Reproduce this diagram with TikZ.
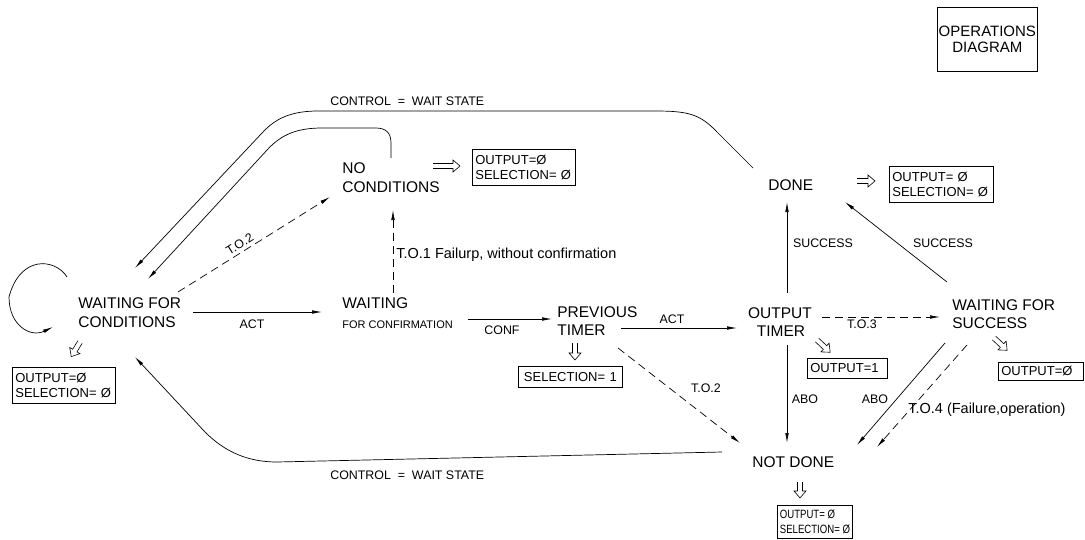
\documentclass[tikz,border=0pt]{standalone}
\usepackage{fontspec}
\setmainfont{Liberation Sans}
\newfontfamily\narrowsans{Liberation Sans}[FakeStretch=0.8]
\usetikzlibrary{arrows.meta,calc}
\begin{document}
\begin{tikzpicture}[x=1pt,y=-1pt,
  line width=0.7pt,
  >={Latex[length=10pt,width=3.6pt]},
  big/.style={font=\fontsize{15.5}{18}\selectfont, inner sep=0pt},
  small/.style={font=\fontsize{11}{13}\selectfont, inner sep=0pt},
  lbl/.style={font=\fontsize{12.4}{14}\selectfont, inner sep=0pt},
  note/.style={font=\fontsize{14.5}{17}\selectfont, inner sep=0pt},
  dashline/.style={dash pattern=on 8pt off 5pt},
  valbox/.style={draw, line width=0.7pt, anchor=north west, inner xsep=3pt,
    inner ysep=0pt, align=left, font=\fontsize{13}{15}\selectfont},
  pics/harrow/.style={code={
    \draw[line width=0.6pt, line join=miter]
      (0,-2.5) -- (#1-7,-2.5) -- (#1-7,-6) -- (#1,0) -- (#1-7,6) -- (#1-7,2.5) -- (0,2.5);}}
]
\useasboundingbox (0,0) rectangle (1085,539);

% ---- title block
\node[draw, anchor=north west, minimum width=100pt, minimum height=64pt, inner sep=0pt,
  align=center, font=\fontsize{15}{16.5}\selectfont] (opd) at (937,7) {OPERATIONS\\DIAGRAM};

% ---- states
\node[big, anchor=base west] (wfcA) at (78,308) {WAITING FOR};
\node[big, anchor=base west] (wfcB) at (78,327) {CONDITIONS};
\node[big, anchor=base west] (ncA) at (342,173) {NO};
\node[big, anchor=base west] (ncB) at (342,192) {CONDITIONS};
\node[big, anchor=base west] (wcA) at (342,308) {WAITING};
\node[small, anchor=base west] (wcB) at (342,328) {FOR CONFIRMATION};
\node[big, anchor=base west] (ptA) at (557,317) {PREVIOUS};
\node[big, anchor=base west] (ptB) at (557,335) {TIMER};
\node[big, anchor=base] (otA) at (780,318) {OUTPUT};
\node[big, anchor=base] (otB) at (781,336) {TIMER};
\node[big, anchor=base west] (done) at (768,190) {DONE};
\node[big, anchor=base west] (wsA) at (952,310) {WAITING FOR};
\node[big, anchor=base west] (wsB) at (952,328) {SUCCESS};
\node[big, anchor=base west] (nd) at (752,467) {NOT DONE};

% ---- value boxes
\node[valbox, text width=97pt, minimum height=36pt] (bxL) at (12,367) {OUTPUT=Ø\\SELECTION= Ø};
\node[valbox, text width=97pt, minimum height=36pt] (bxNC) at (472,149) {OUTPUT=Ø\\SELECTION= Ø};
\node[valbox, text width=98pt, minimum height=36pt] (bxD) at (889,166) {OUTPUT= Ø\\SELECTION= Ø};
\node[valbox, text width=98pt, minimum height=21pt, align=center] (bxS) at (518,366) {SELECTION= 1};
\node[valbox, text width=74pt, minimum height=20pt] (bxO1) at (807,358) {OUTPUT=1};
\node[valbox, text width=79pt, minimum height=18pt] (bxO0) at (998,362) {OUTPUT=Ø};
\node[valbox, inner xsep=2.5pt, minimum height=33pt, font=\narrowsans\fontsize{12}{14.5}\selectfont] (bxND) at (777,505) {OUTPUT= Ø\\SELECTION= Ø};

% ---- hollow "implies" arrows
\pic[rotate=-121] at (80,342) {harrow=17};
\pic at (433,166) {harrow=27};
\pic[rotate=-90] at (575,343) {harrow=17};
\pic at (857,181) {harrow=18};
\pic[rotate=-43] at (817,340) {harrow=18};
\pic[rotate=-43] at (994,338) {harrow=18};
\pic[rotate=-90] at (800,482) {harrow=16};

% ---- connector end points
\coordinate (loopS) at (67,277);   \coordinate (loopE) at (53,327);
\coordinate (wfcOut) at (135,268); \coordinate (wfcIn) at (148,279);
\coordinate (wfcLow) at (135,357);
\coordinate (wfcR) at (193,312);   \coordinate (wfcT) at (178,292);
\coordinate (ncL) at (330,197);    \coordinate (ncTop) at (391,158);
\coordinate (ncBot) at (393,210);
\coordinate (wcL) at (322,312);    \coordinate (wcTop) at (393,293);
\coordinate (wcR) at (468,319);
\coordinate (ptL) at (552,319);    \coordinate (ptR) at (621,328);
\coordinate (ptD) at (618,348);
\coordinate (otL) at (737,328);    \coordinate (otR) at (822,317);
\coordinate (otU) at (787,293);    \coordinate (otD) at (787,345);
\coordinate (doneB) at (787,202);  \coordinate (doneBR) at (845,202);
\coordinate (doneL) at (753,168);
\coordinate (wsL) at (940,317);    \coordinate (wsU) at (947,282);
\coordinate (wsD1) at (945,343);   \coordinate (wsD2) at (967,345);
\coordinate (ndT) at (787,443);    \coordinate (ndTL) at (740,443);
\coordinate (ndTR1) at (857,445);  \coordinate (ndTR2) at (877,447);
\coordinate (ndW) at (722,452);

% ---- transitions
\draw[->] (loopS) .. controls (55,258) and (20,255) .. (9,297)
                  .. controls (9,325) and (30,338) .. (loopE);
\draw[->] (wfcR) -- (wcL);
\draw[->, dashline] (wfcT) -- (ncL);
\draw[->, dashline] (wcTop) -- (ncBot);
\draw[->] (wcR) -- (ptL);
\draw[->] (ptR) -- (otL);
\draw[->, dashline] (ptD) -- (ndTL);
\draw[->, dashline] (otR) -- (wsL);
\draw[->] (otU) -- (doneB);
\draw[->] (otD) -- (ndT);
\draw[->] (wsU) -- (doneBR);
\draw[->] (wsD1) -- (ndTR1);
\draw[->, dashline] (wsD2) -- (ndTR2);

% return paths to the waiting state
\draw[->] (doneL) -- (717,132) .. controls (700,114) and (688,111) .. (655,111)
  -- (318,111) .. controls (292,111) and (276,118) .. (263,132) -- (wfcOut);
\draw[->] (ncTop) -- (391,143) .. controls (391,133) and (386,128) .. (376,128)
  -- (322,128) .. controls (298,128) and (282,134) .. (268,149) -- (wfcIn);
\draw[->] (ndW) -- (277,462) .. controls (248,462) and (225,452) .. (205,432) -- (wfcLow);

% ---- labels
\node[lbl, anchor=base west] (ctop) at (330,105) {CONTROL\ \ =\ \ WAIT STATE};
\node[lbl, anchor=base west] (cbot) at (330,479) {CONTROL\ \ =\ \ WAIT STATE};
\node[lbl, anchor=base west, rotate=32] (lto2a) at (229,256) {T.O.2};
\node[note, anchor=base west] (lto1) at (396,258) {T.O.1 Failurp, without confirmation};
\node[lbl, anchor=base] (lact1) at (252,328) {ACT};
\node[lbl, anchor=base] (lconf) at (502,334) {CONF};
\node[lbl, anchor=base] (lact2) at (672,323) {ACT};
\node[lbl, anchor=base] (lto2b) at (706,392) {T.O.2};
\node[lbl, anchor=base] (lto3) at (862,328) {T.O.3};
\node[lbl, anchor=base] (lsuc1) at (823,247) {SUCCESS};
\node[lbl, anchor=base] (lsuc2) at (943,247) {SUCCESS};
\node[lbl, anchor=base] (labo1) at (805,403) {ABO};
\node[lbl, anchor=base] (labo2) at (875,403) {ABO};
\node[note, anchor=base west] (lto4) at (908,413) {T.O.4 (Failure,operation)};
\end{tikzpicture}
\end{document}
